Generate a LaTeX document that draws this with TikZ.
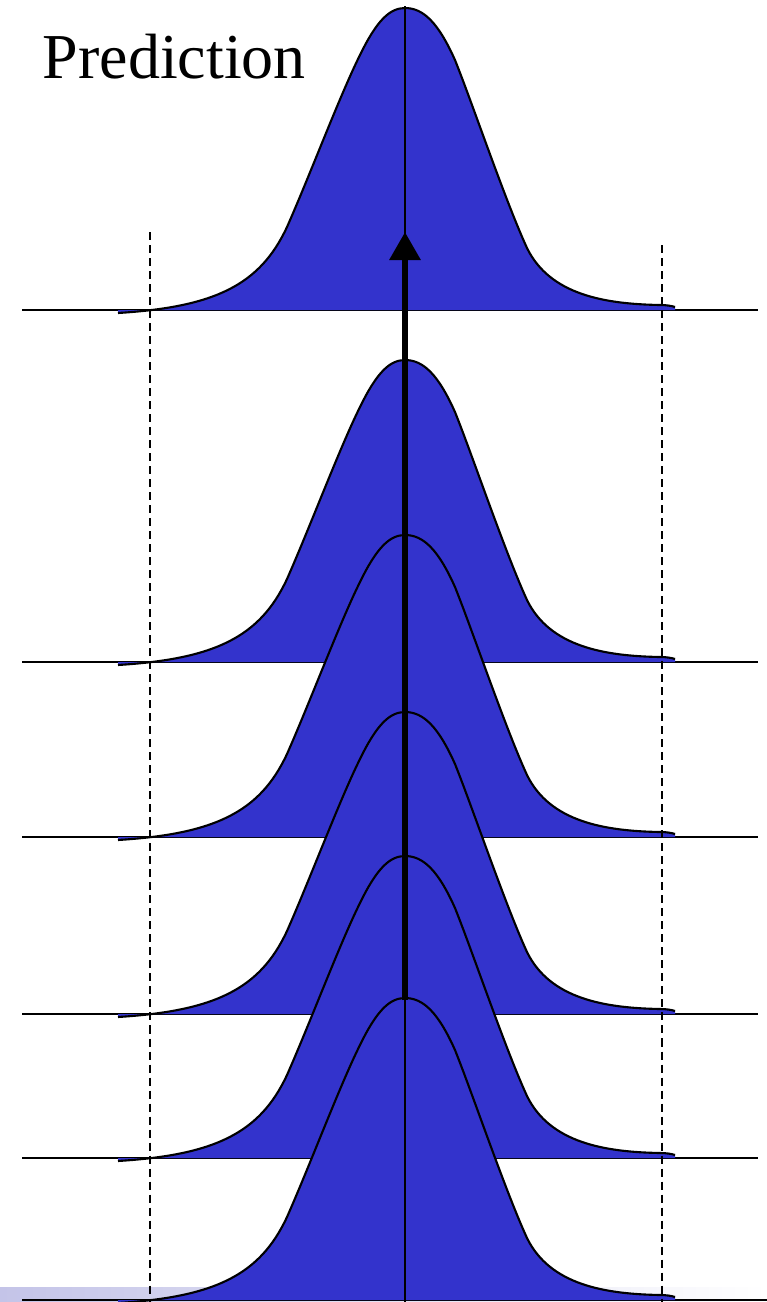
\documentclass[tikz,border=0pt]{standalone}
\usepackage{fontspec}
\setmainfont{Liberation Serif}
\usetikzlibrary{arrows.meta}
\definecolor{gblue}{RGB}{51,51,204}
\definecolor{lav}{RGB}{196,196,232}
\tikzset{
  baseline line/.style={line width=0.45pt, black},
  curve fill/.style={fill=gblue},
  curve line/.style={line width=0.6pt, black},
  guide/.style={line width=0.35pt, black, dash pattern=on 0.08cm off 0.05cm},
  center line/.style={line width=0.45pt, black},
  trend arrow/.style={line width=1.75pt, -{Triangle[width=0.3cm,length=0.28cm]}},
}
\newcommand\gausspath{(-287,3) .. controls (-190,-3) and (-145,-25) .. (-118,-83)
  .. controls (-95,-135) and (-65,-215) .. (-45,-255)
  .. controls (-28,-290) and (-15,-302) .. (0,-302)
  .. controls (18,-302) and (33,-288) .. (50,-250)
  .. controls (68,-205) and (100,-110) .. (122,-62)
  .. controls (145,-15) and (200,-6) .. (255,-5)
  .. controls (262,-5) and (267,-4) .. (270,-3)}
\newcommand\gausscurve[2]{%
  \draw[baseline line] (22,#1) -- (#2,#1);
  \begin{scope}[shift={(405,#1)}]
    \fill[curve fill] \gausspath -- (270,0) -- (-287,0) -- cycle;
    \draw[curve line] \gausspath;
  \end{scope}}
\begin{document}
\begin{tikzpicture}[x=0.01cm, y=-0.01cm]
\useasboundingbox (0,0) rectangle (767,1302);
% light bar at bottom
\shade[left color=lav, right color=white] (0,1287) rectangle (767,1302);
\gausscurve{310}{758}
\gausscurve{662}{758}
\gausscurve{837}{758}
\gausscurve{1014}{758}
\gausscurve{1158}{758}
\gausscurve{1300}{767}
% guides
\coordinate (gl1) at (150,232); \coordinate (gl2) at (150,1302);
\coordinate (gr1) at (662,245); \coordinate (gr2) at (662,1302);
\draw[guide] (gl1) -- (gl2);
\draw[guide] (gr1) -- (gr2);
\coordinate (ctop) at (405,6); \coordinate (cbot) at (405,1302);
\draw[center line] (ctop) -- (cbot);
\coordinate (astart) at (405,1000); \coordinate (aend) at (405,232);
\draw[trend arrow] (astart) -- (aend);
\node[anchor=base west, inner sep=0pt, font=\fontsize{18.2}{20}\selectfont] (title) at (42,78) {Prediction};
\end{tikzpicture}
\end{document}
